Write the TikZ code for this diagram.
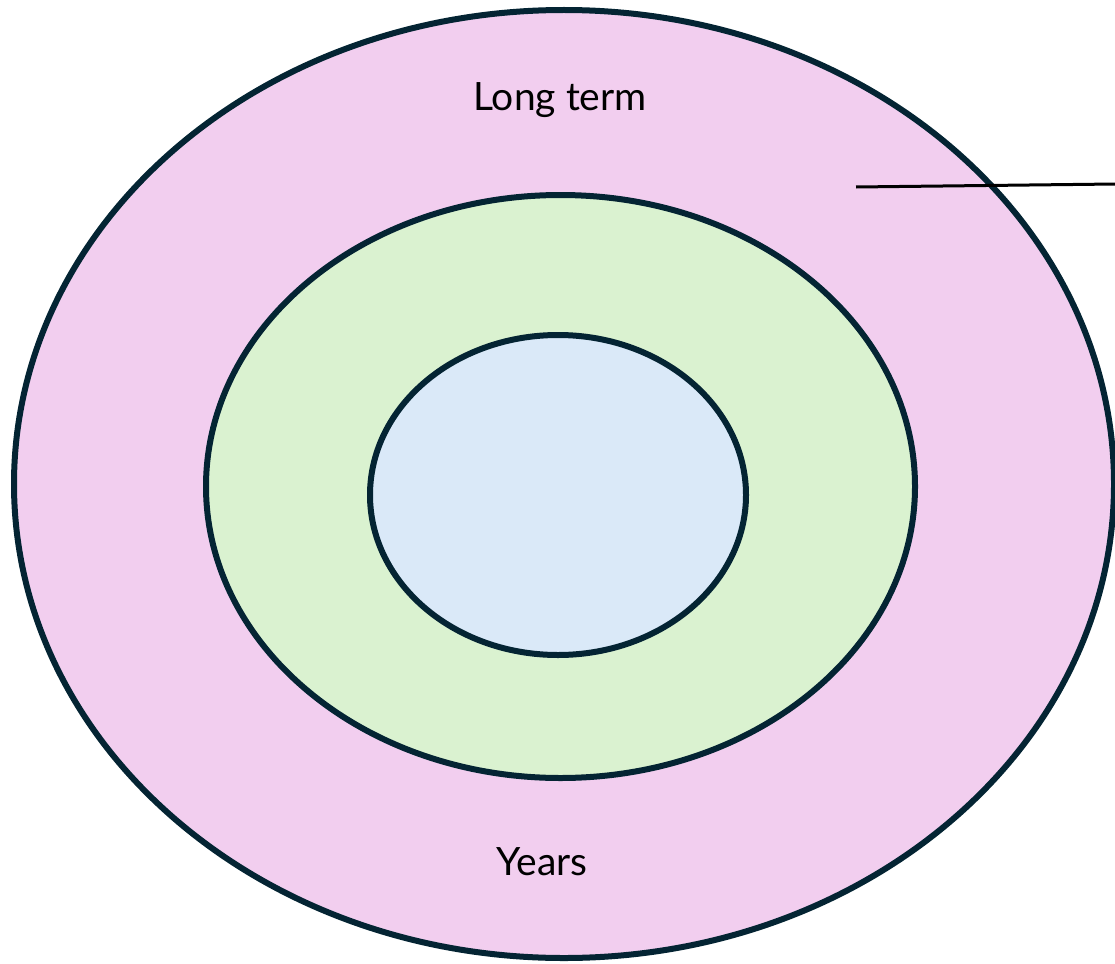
\documentclass[tikz,border=0pt]{standalone}
\usepackage{fontspec}
\setmainfont{Lato}
\definecolor{pinkf}{HTML}{F2CEEF}
\definecolor{greenf}{HTML}{DAF2D0}
\definecolor{bluef}{HTML}{DAE9F8}
\definecolor{edge}{HTML}{042433}
\begin{document}
\begin{tikzpicture}[x=1pt,y=-1pt,
  ring/.style={draw=edge,line width=6pt},
  lbl/.style={font=\fontsize{39}{45}\selectfont,text=black,inner sep=0pt}]
\useasboundingbox (0,0) rectangle (1115,963);
\path[ring,fill=pinkf] (564,484) ellipse [x radius=550,y radius=474];
\path[ring,fill=greenf] (560.5,486.5) ellipse [x radius=354.5,y radius=291.5];
\path[ring,fill=bluef] (558,495) ellipse [x radius=188,y radius=160];
\node[lbl] (lt) at (560,100) {Long term};
\node[lbl] (yr) at (542,862) {Years};
\coordinate (a) at (856,187);
\coordinate (b) at (1116,184);
\draw[black,line width=3pt] (a) -- (b);
\end{tikzpicture}
\end{document}
